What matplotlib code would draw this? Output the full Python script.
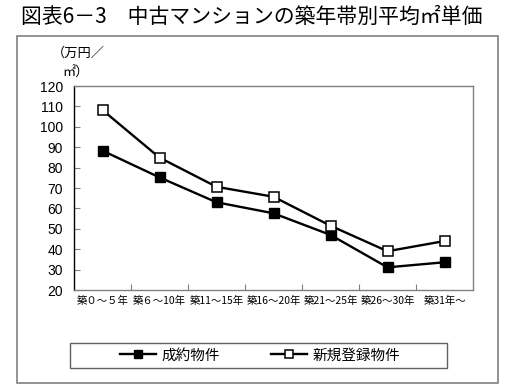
import matplotlib
matplotlib.use("Agg")
import matplotlib.pyplot as plt
from matplotlib.patches import Rectangle

plt.rcParams['font.family'] = ['Noto Sans CJK JP', 'DejaVu Sans']

categories = ["築０～５年", "築６～10年", "築11～15年", "築16～20年", "築21～25年", "築26～30年", "築31年～"]
seiyaku = [88.3, 75.2, 63.0, 57.6, 47.0, 31.1, 33.6]
shinki = [108.2, 84.9, 70.6, 65.7, 51.5, 39.0, 44.0]
series_names = ["成約物件", "新規登録物件"]
yticks = list(range(20, 121, 10))

W, H = 512, 392
fig = plt.figure(figsize=(W / 100, H / 100), dpi=100)

def fx(px):
    return px / W

def fy(py):
    return 1 - py / H

# outer frame
fig.patches.append(Rectangle((fx(17), fy(383)), fx(498) - fx(17), fy(36) - fy(383),
                             transform=fig.transFigure, fill=False, edgecolor='#808080', lw=1.2))

fig.text(fx(21), fy(17), "図表6－3　中古マンションの築年帯別平均㎡単価", fontsize=15,
         ha='left', va='center', color='black')

ax = fig.add_axes([fx(74), fy(290), fx(473) - fx(74), fy(86) - fy(290)])
x = list(range(len(categories)))
ax.plot(x, seiyaku, color='black', lw=1.7, marker='s', markersize=7.5,
        markerfacecolor='black', markeredgecolor='black', label=series_names[0], clip_on=False)
ax.plot(x, shinki, color='black', lw=1.7, marker='s', markersize=7.5,
        markerfacecolor='white', markeredgecolor='black', markeredgewidth=1.1,
        label=series_names[1], clip_on=False)

ax.set_xlim(-0.5, len(categories) - 0.5)
ax.set_ylim(20, 120)
ax.set_yticks(yticks)
ax.set_yticklabels([str(v) for v in yticks], fontsize=10, family=['Liberation Sans', 'DejaVu Sans'])
ax.tick_params(axis='y', direction='in', length=4, width=0.8, color='#808080', pad=8)
ax.set_xticks(x)
ax.set_xticklabels(categories, fontsize=7.5)
ax.tick_params(axis='x', which='major', length=0, pad=4)
ax.set_xticks([i + 0.5 for i in range(len(categories) - 1)], minor=True)
ax.tick_params(axis='x', which='minor', direction='in', length=4, width=0.8, color='#808080')
for s in ['top', 'right', 'bottom']:
    ax.spines[s].set_color('#808080')
    ax.spines[s].set_linewidth(1.0)
ax.spines['left'].set_color('black')
ax.spines['left'].set_linewidth(1.0)

fig.text(fx(52), fy(53), "（万円／", fontsize=9.5, ha='left', va='center')
fig.text(fx(62), fy(73), "㎡）", fontsize=9.5, ha='left', va='center')

# legend box
fig.patches.append(Rectangle((fx(70), fy(368)), fx(447) - fx(70), fy(343) - fy(368),
                             transform=fig.transFigure, fill=False, edgecolor='#606060', lw=1.0))
handles, labels = ax.get_legend_handles_labels()
leg = fig.legend(handles, labels, loc='center', bbox_to_anchor=(fx(260), fy(355.5)),
                 ncol=2, frameon=False, fontsize=10.5, handlelength=2.5, handletextpad=0.35,
                 columnspacing=3.5, markerscale=0.8)

fig.savefig("out.png", dpi=100)
